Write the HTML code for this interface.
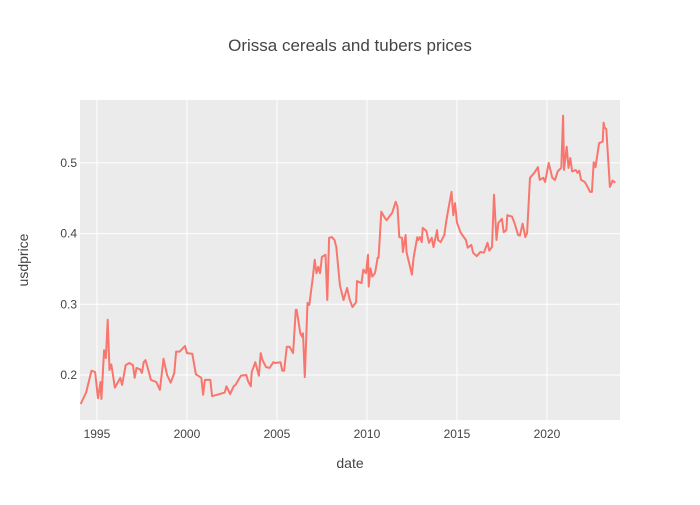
<!DOCTYPE html>
<html><head><meta charset="utf-8"><style>
body{margin:0;background:#fff;font-family:"Liberation Sans",sans-serif;}
svg text{font-family:"Liberation Sans",sans-serif;fill:#444;}
</style></head><body>
<svg id="chart" width="700" height="500">
<rect width="700" height="500" fill="#fff"/>
<rect x="80" y="100" width="540" height="320" fill="#ebebeb"/>
<g id="grid"></g>
<g id="ticks"></g>
<path id="line" fill="none" stroke="#f8766d" stroke-width="2" stroke-linejoin="round"/>
<text x="350" y="51" text-anchor="middle" font-size="17">Orissa cereals and tubers prices</text>
<text x="350" y="468" text-anchor="middle" font-size="14">date</text>
<text x="0" y="0" transform="translate(28,260) rotate(-90)" text-anchor="middle" font-size="14">usdprice</text>
</svg>
<script>
const dates=[1994.1,1994.4,1994.7,1994.9,1995.06,1995.2,1995.25,1995.4,1995.5,1995.6,1995.7,1995.8,1996.0,1996.3,1996.4,1996.6,1996.8,1997.0,1997.1,1997.2,1997.4,1997.5,1997.6,1997.7,1997.9,1998.0,1998.3,1998.5,1998.7,1998.9,1999.1,1999.3,1999.4,1999.6,1999.9,2000.0,2000.3,2000.5,2000.8,2000.9,2001.0,2001.3,2001.4,2002.1,2002.2,2002.4,2002.6,2002.7,2003.0,2003.3,2003.4,2003.55,2003.6,2003.8,2004.0,2004.1,2004.2,2004.4,2004.6,2004.8,2004.9,2005.2,2005.3,2005.4,2005.55,2005.7,2005.9,2006.05,2006.1,2006.3,2006.4,2006.45,2006.55,2006.7,2006.8,2007.0,2007.1,2007.2,2007.3,2007.4,2007.5,2007.7,2007.8,2007.9,2008.05,2008.2,2008.3,2008.5,2008.7,2008.9,2009.05,2009.2,2009.4,2009.45,2009.7,2009.8,2009.95,2010.06,2010.1,2010.2,2010.3,2010.45,2010.6,2010.65,2010.8,2011.0,2011.1,2011.3,2011.4,2011.6,2011.7,2011.8,2011.95,2012.0,2012.15,2012.2,2012.5,2012.6,2012.8,2012.85,2012.95,2013.05,2013.1,2013.3,2013.45,2013.6,2013.7,2013.9,2013.95,2014.1,2014.3,2014.4,2014.5,2014.7,2014.8,2014.9,2015.0,2015.2,2015.3,2015.5,2015.6,2015.8,2015.9,2016.1,2016.3,2016.5,2016.7,2016.8,2016.95,2017.06,2017.2,2017.3,2017.5,2017.6,2017.75,2017.8,2018.06,2018.2,2018.4,2018.5,2018.65,2018.8,2018.9,2019.06,2019.3,2019.5,2019.6,2019.8,2019.9,2020.1,2020.3,2020.45,2020.6,2020.8,2020.9,2020.95,2021.1,2021.2,2021.3,2021.4,2021.6,2021.7,2021.8,2021.9,2022.1,2022.2,2022.4,2022.5,2022.6,2022.7,2022.8,2022.9,2023.1,2023.15,2023.2,2023.3,2023.5,2023.65,2023.8,2024.06];
const prices=[0.159,0.175,0.206,0.204,0.167,0.190,0.166,0.235,0.224,0.278,0.207,0.215,0.182,0.196,0.186,0.214,0.217,0.214,0.196,0.210,0.208,0.203,0.218,0.221,0.203,0.193,0.190,0.179,0.223,0.200,0.189,0.203,0.233,0.233,0.241,0.231,0.230,0.201,0.196,0.172,0.193,0.193,0.170,0.175,0.184,0.173,0.184,0.186,0.199,0.200,0.191,0.184,0.204,0.218,0.199,0.231,0.221,0.211,0.210,0.218,0.217,0.218,0.206,0.206,0.240,0.240,0.231,0.292,0.292,0.259,0.254,0.259,0.197,0.302,0.299,0.339,0.363,0.344,0.353,0.344,0.367,0.370,0.306,0.394,0.395,0.391,0.381,0.327,0.306,0.323,0.306,0.296,0.303,0.333,0.330,0.349,0.344,0.370,0.325,0.351,0.339,0.344,0.366,0.366,0.431,0.422,0.419,0.426,0.429,0.445,0.438,0.395,0.394,0.374,0.398,0.374,0.342,0.367,0.395,0.391,0.395,0.388,0.408,0.404,0.387,0.394,0.381,0.405,0.391,0.388,0.398,0.416,0.431,0.459,0.426,0.443,0.416,0.402,0.398,0.391,0.380,0.384,0.373,0.368,0.374,0.373,0.387,0.376,0.381,0.455,0.391,0.415,0.421,0.402,0.405,0.426,0.424,0.415,0.398,0.397,0.414,0.395,0.401,0.479,0.486,0.494,0.476,0.479,0.473,0.500,0.479,0.476,0.488,0.493,0.567,0.490,0.523,0.493,0.507,0.488,0.490,0.486,0.489,0.476,0.473,0.469,0.459,0.459,0.501,0.494,0.511,0.528,0.530,0.557,0.550,0.548,0.466,0.475,0.472];
const xTicks=[1995,2000,2005,2010,2015,2020];
const yTicks=[0.2,0.3,0.4,0.5];
const yTickLabels=["0.2","0.3","0.4","0.5"];
const X0=80,X1=620,Y0=420,Y1=100,xMin=1994.06,xMax=2024.06,yMin=0.1363,yMax=0.589;
function xs(v){return X0+(v-xMin)/(xMax-xMin)*(X1-X0);}
function ys(v){return Y0-(v-yMin)/(yMax-yMin)*(Y0-Y1);}
const NS="http://www.w3.org/2000/svg";
const grid=document.getElementById('grid'),ticks=document.getElementById('ticks');
xTicks.forEach(t=>{
  const l=document.createElementNS(NS,'line');
  l.setAttribute('x1',xs(t));l.setAttribute('x2',xs(t));l.setAttribute('y1',Y1);l.setAttribute('y2',Y0);
  l.setAttribute('stroke','#fff');l.setAttribute('stroke-width','1');
  
  
  grid.appendChild(l);
  const tx=document.createElementNS(NS,'text');
  tx.setAttribute('x',xs(t));tx.setAttribute('y',Y0+18);tx.setAttribute('text-anchor','middle');tx.setAttribute('font-size','12');
  tx.textContent=t;
  
  
  ticks.appendChild(tx);
});
yTicks.forEach((t,i)=>{
  const l=document.createElementNS(NS,'line');
  l.setAttribute('x1',X0);l.setAttribute('x2',X1);l.setAttribute('y1',ys(t));l.setAttribute('y2',ys(t));
  l.setAttribute('stroke','#fff');l.setAttribute('stroke-width','1');
  
  
  grid.appendChild(l);
  const tx=document.createElementNS(NS,'text');
  tx.setAttribute('x',X0-3);tx.setAttribute('y',ys(t)+4);tx.setAttribute('text-anchor','end');tx.setAttribute('font-size','12');
  tx.textContent=yTickLabels[i];
  
  
  ticks.appendChild(tx);
});
let d='';
dates.forEach((x,i)=>{d+=(i?'L':'M')+xs(x).toFixed(1)+','+ys(prices[i]).toFixed(1);});
document.getElementById('line').setAttribute('d',d);
</script>
</body></html>
